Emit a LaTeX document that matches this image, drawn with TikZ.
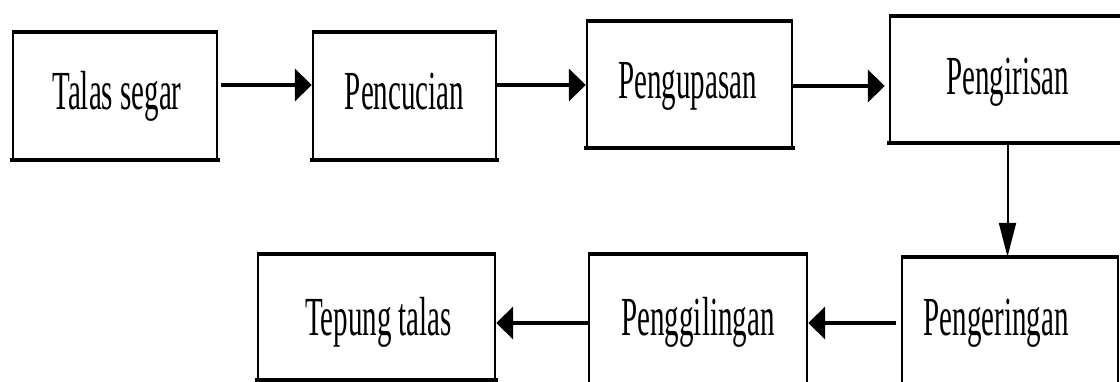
\documentclass[tikz,border=0pt]{standalone}
\usepackage{fontspec}
\setmainfont{Liberation Serif}
\usetikzlibrary{arrows.meta,calc}
\begin{document}
\begin{tikzpicture}[x=1pt,y=-1pt,
  box/.style={draw=black,line width=2.4pt,inner sep=0pt},
  edge/.style={line width=4.2pt,line cap=rect},
  lbl/.style={anchor=base,inner sep=0pt,font=\fontsize{29}{29}\selectfont},
  arr/.style={line width=4pt,-{Triangle[length=17pt,width=32pt]}},
  varr/.style={line width=2pt,-{Triangle[length=34pt,width=17pt]}}]
\useasboundingbox (0,0) rectangle (1120,382);
% boxes
\node[box,minimum width=204pt,minimum height=126pt] (b1) at (115,96) {};
\node[box,minimum width=183pt,minimum height=126pt] (b2) at (404.5,96) {};
\node[box,minimum width=205pt,minimum height=125pt] (b3) at (689.5,84.5) {};
\node[box,minimum width=235pt,minimum height=125pt] (b4) at (1007.5,79.5) {};
\node[box,minimum width=216pt,minimum height=127pt] (b5) at (1010,321.5) {};
\node[box,minimum width=218pt,minimum height=130pt] (b6) at (698,320) {};
\node[box,minimum width=237pt,minimum height=124pt] (b7) at (376.5,317) {};
% heavier top and bottom rules
\foreach \b in {b1,b2,b3,b4,b7}{
  \draw[edge] (\b.south west) -- (\b.south east);
}
\foreach \b in {b1,b2,b3,b4,b5,b6,b7}{
  \draw[line width=3.4pt] (\b.north west) -- (\b.north east);
}
% labels
\node[lbl] (t1) at ($(b1.center)+(2,14)$) {\scalebox{1}[1.9]{Talas segar}};
\node[lbl] (t2) at ($(b2.center)+(0,14)$) {\scalebox{1}[1.9]{Pencucian}};
\node[lbl] (t3) at ($(b3.center)+(-2,14)$) {\scalebox{1}[1.9]{Pengupasan}};
\node[lbl] (t4) at ($(b4.center)+(0,15)$) {\scalebox{1}[1.9]{Pengirisan}};
\node[lbl] (t5) at ($(b5.center)+(-14,13.5)$) {\scalebox{1}[1.9]{Pengeringan}};
\node[lbl] (t6) at ($(b6.center)+(0,15)$) {\scalebox{1}[1.9]{Penggilingan}};
\node[lbl] (t7) at ($(b7.center)+(2,18)$) {\scalebox{1}[1.9]{Tepung talas}};
% connectors
\coordinate (s1) at ($(b1.east)+(3,-11)$);
\coordinate (s2) at ($(b2.east)+(0,-11)$);
\coordinate (s3) at ($(b3.east)+(0,1.5)$);
\coordinate (s5) at ($(b5.west)+(-5,1.5)$);
\coordinate (s6) at ($(b6.west)+(0,3)$);
\draw[arr] (s1) -- (s1 -| b2.west);
\draw[arr] (s2) -- (s2 -| b3.west);
\draw[arr,shorten >=4pt] (s3) -- (s3 -| b4.west);
\draw[varr] (b4.south) -- (b4.south |- b5.north);
\draw[arr] (s5) -- (s5 -| b6.east);
\draw[arr] (s6) -- (s6 -| b7.east);
\end{tikzpicture}
\end{document}
